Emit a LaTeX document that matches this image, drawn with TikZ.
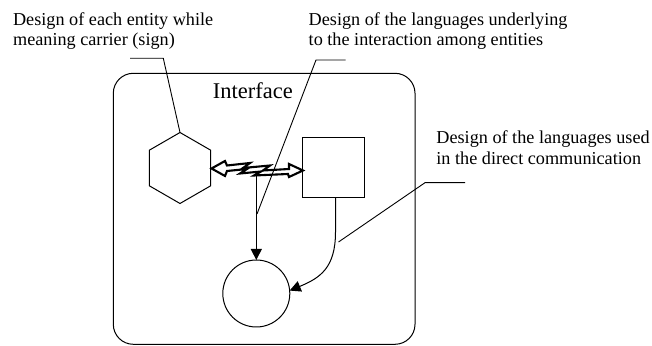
\documentclass[tikz,border=0pt]{standalone}
\usepackage{fontspec}
\setmainfont{Liberation Serif}
\usetikzlibrary{arrows.meta,shapes.geometric}
\begin{document}
\begin{tikzpicture}[x=0.5pt,y=-0.5pt,
  shapeline/.style={draw,line width=0.5pt,inner sep=0pt,outer sep=0pt},
  lbl/.style={inner sep=0pt,anchor=base west,font=\fontsize{9.1}{10.5}\selectfont},
  leader/.style={line width=0.45pt},
  arr/.style={line width=0.5pt,-{Triangle[length=5.5pt,width=5.5pt]}},
  zapline/.style={line width=1.05pt,line join=miter,fill=white}]
\useasboundingbox (0,0) rectangle (652,346);
% frame
\node[shapeline,rounded corners=10pt,minimum width=150.85pt,minimum height=135.5pt] (frame) at (264.15,208.8) {};
\node[inner sep=0pt,anchor=base west,font=\fontsize{11.25}{13}\selectfont] (iface) at (212.5,98.3) {Interface};
% entities
\node[shapeline,regular polygon,regular polygon sides=6,minimum size=35.5pt,shape border rotate=30] (hex) at (180,168) {};
\node[shapeline,minimum width=31pt,minimum height=30pt] (sq) at (333.7,167.7) {};
\node[shapeline,circle,minimum size=33.5pt] (circ) at (256.3,293.5) {};
% lightning double arrow
\draw[zapline] (211.5,168.5) -- (225,161) -- (227,165.5) -- (250,163) -- (243,168) -- (270,165.5)
  -- (263,170.5) -- (289,169) -- (289,164) -- (303,170.5) -- (289,177) -- (288,174)
  -- (254,175.5) -- (261,171.5) -- (240,173.5) -- (247,169) -- (227,171) -- (225,176) -- cycle;
\coordinate (zap) at (256.3,175.4);
% arrows
\draw[arr] (zap) -- (circ.north);
\coordinate (bend) at (335.5,232);
\draw[arr] (sq.south -| bend) -- (bend) .. controls (335.5,268) and (320,278) .. (circ.5);
% labels
\node[lbl] (t1a) at (12.7,25.5) {Design of each entity while};
\node[lbl] (t1b) at (12.7,46) {meaning carrier (sign)};
\node[lbl] (t2a) at (308.3,25.5) {Design of the languages underlying};
\node[lbl] (t2b) at (308.3,46) {to the interaction among entities};
\node[lbl] (t3a) at (436,143.7) {Design of the languages used};
\node[lbl] (t3b) at (436,164.2) {in the direct communication};
% leaders
\coordinate (c1a) at (130,58.3);
\coordinate (c1b) at (163.3,58.3);
\draw[leader] (c1a) -- (c1b) -- (hex.north);
\coordinate (c2a) at (345.5,60);
\coordinate (c2b) at (316,60);
\coordinate (c2c) at (257,214);
\draw[leader] (c2a) -- (c2b) -- (c2c);
\coordinate (c3a) at (465,182.7);
\coordinate (c3b) at (425,182.7);
\coordinate (c3c) at (338.5,242);
\draw[leader] (c3a) -- (c3b) -- (c3c);
\end{tikzpicture}
\end{document}
